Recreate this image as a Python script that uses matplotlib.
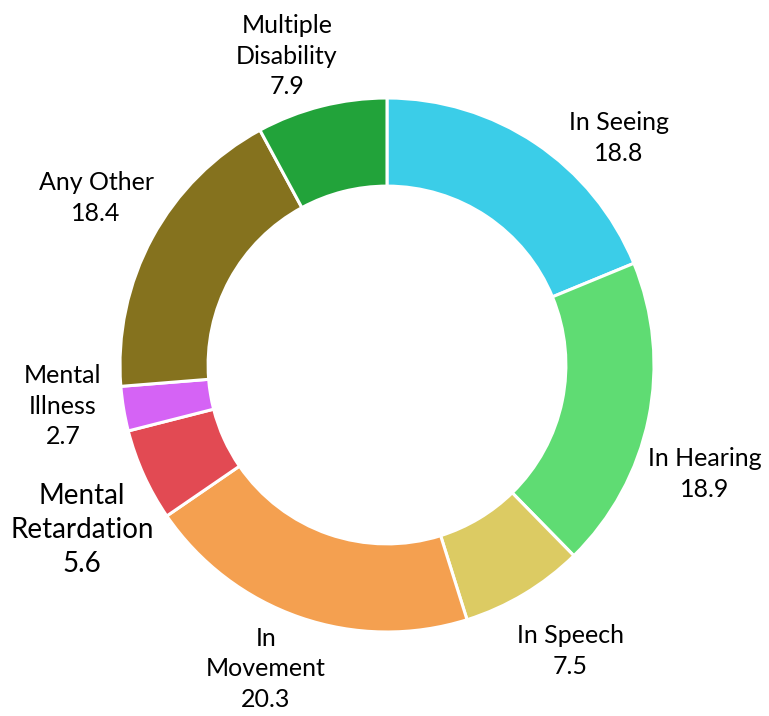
import matplotlib.pyplot as plt

plt.rcParams['font.family'] = ['Lato', 'DejaVu Sans']

labels = ["In Seeing", "In Hearing", "In Speech", "In\nMovement", "Mental\nRetardation",
          "Mental\nIllness", "Any Other", "Multiple\nDisability"]
values = [18.8, 18.9, 7.5, 20.3, 5.6, 2.7, 18.4, 7.9]
colors = ["#3bcde8", "#5fdc73", "#dccb63", "#f4a050", "#e24a53", "#d563f5", "#85721e", "#22a33a"]

# label centres in pixels of the reference (x, y from top-left), centre of ring at (387, 365)
label_px = [(619, 138), (705, 474), (570, 651), (266, 669), (82, 530), (63, 406), (96, 198), (287, 56)]
label_size = [18, 18, 18, 18, 20, 18, 18, 18]

fig = plt.figure(figsize=(7.69, 7.16), dpi=100)
ax = fig.add_axes([0, 0, 1, 1])
ax.pie(values, colors=colors, startangle=90, counterclock=False, radius=1,
       wedgeprops=dict(width=0.33, edgecolor='white', linewidth=2.2))
scale = 267.0
ax.set_xlim(-387 / scale, (769 - 387) / scale)
ax.set_ylim(-(716 - 365) / scale, 365 / scale)
ax.set_aspect('auto')
ax.axis('off')

for lab, v, (px, py), fs in zip(labels, values, label_px, label_size):
    ax.text((px - 387) / scale, (365 - py) / scale, f"{lab}\n{v}", ha='center', va='center',
            fontsize=fs, linespacing=1.4, color='black')

fig.savefig("out.png", dpi=100)
